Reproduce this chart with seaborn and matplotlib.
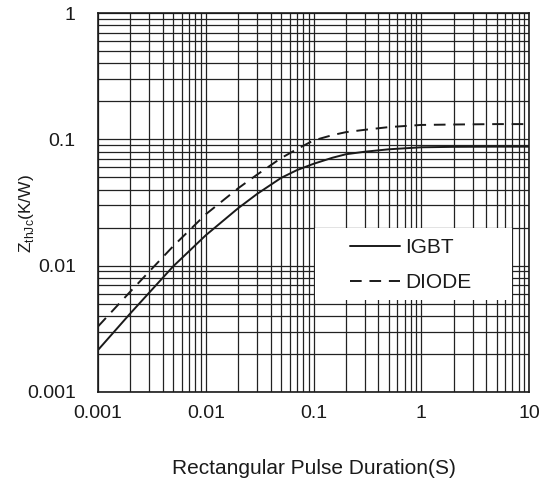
import matplotlib
matplotlib.use("Agg")
import matplotlib.pyplot as plt
from matplotlib.ticker import LogLocator, FixedLocator, FixedFormatter, NullFormatter
from matplotlib.patches import Rectangle
import seaborn as sns

# Transient thermal impedance, junction to case
pulse_s = [0.001, 0.002, 0.005, 0.01, 0.02, 0.03, 0.05, 0.07, 0.1, 0.15, 0.2, 0.3, 0.5, 1, 2, 5, 10]
igbt_kw = [0.00215, 0.0042, 0.0099, 0.0174, 0.0285, 0.037, 0.0495, 0.057, 0.064, 0.0715,
           0.0762, 0.0798, 0.0834, 0.0865, 0.0872, 0.0875, 0.0875]
diode_kw = [0.0033, 0.00625, 0.0143, 0.0255, 0.041, 0.0526, 0.071, 0.0835, 0.098, 0.108,
            0.114, 0.119, 0.125, 0.130, 0.131, 0.132, 0.132]

x_ticks = [0.001, 0.01, 0.1, 1, 10]
x_tick_labels = ["0.001", "0.01", "0.1", "1", "10"]
y_ticks = [0.001, 0.01, 0.1, 1]
y_tick_labels = ["0.001", "0.01", "0.1", "1"]

sns.set_theme(style="white")
plt.rcParams["font.family"] = ["Liberation Sans", "DejaVu Sans"]
plt.rcParams["mathtext.fontset"] = "custom"
plt.rcParams["mathtext.rm"] = "Liberation Sans"

fig = plt.figure(figsize=(5.55, 4.86), dpi=100)
ax = fig.add_axes([98 / 555, 1 - 392 / 486, 431 / 555, 379 / 486])

ink = "#1a1a1a"
sns.lineplot(x=pulse_s, y=igbt_kw, ax=ax, color=ink, lw=1.4, label="IGBT")
sns.lineplot(x=pulse_s, y=diode_kw, ax=ax, color=ink, lw=1.4, label="DIODE")
ax.lines[1].set_dashes((6, 4))

ax.set_xscale("log")
ax.set_yscale("log")
ax.set_xlim(0.001, 10)
ax.set_ylim(0.001, 1)

ax.xaxis.set_major_locator(FixedLocator(x_ticks))
ax.xaxis.set_major_formatter(FixedFormatter(x_tick_labels))
ax.yaxis.set_major_locator(FixedLocator(y_ticks))
ax.yaxis.set_major_formatter(FixedFormatter(y_tick_labels))
ax.xaxis.set_minor_locator(LogLocator(base=10, subs=range(2, 10), numticks=20))
ax.yaxis.set_minor_locator(LogLocator(base=10, subs=range(2, 10), numticks=20))
ax.xaxis.set_minor_formatter(NullFormatter())
ax.yaxis.set_minor_formatter(NullFormatter())

ax.grid(True, which="both", color="#222222", lw=0.9)
ax.set_axisbelow(True)
ax.tick_params(which="both", length=0, labelsize=14, colors=ink)
ax.tick_params(axis="x", pad=9)
ax.tick_params(axis="y", pad=16)
for s in ax.spines.values():
    s.set_color(ink)
    s.set_linewidth(1.2)

ax.set_xlabel("Rectangular Pulse Duration(S)", fontsize=15, color=ink)
ax.xaxis.set_label_coords(0.5, -0.178)
ax.set_ylabel(r"Z$_{\mathregular{thJc}}$(K/W)", fontsize=12.5, color=ink)
ax.yaxis.set_label_coords(-0.145, 0.47)

# blank panel behind the legend
ax.add_patch(Rectangle(((315 - 98) / 431, (392 - 300) / 379), 197 / 431, 72 / 379,
                       transform=ax.transAxes, facecolor="white", edgecolor="none",
                       zorder=1))
leg = ax.legend(loc="center left", bbox_to_anchor=(350 / 555, 1 - 265 / 486),
                bbox_transform=fig.transFigure, frameon=False, fontsize=15,
                handlelength=2.4, handletextpad=0.25, labelspacing=0.75,
                borderpad=0, borderaxespad=0)
for t in leg.get_texts():
    t.set_color(ink)
leg.set_zorder(3)

fig.savefig("out.png", dpi=100, facecolor="white")
